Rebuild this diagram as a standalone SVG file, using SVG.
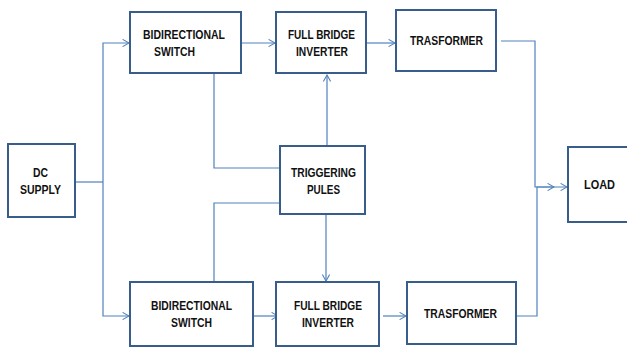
<svg xmlns="http://www.w3.org/2000/svg" width="627" height="347" viewBox="0 0 627 347">
  <style>
    .box { fill: #ffffff; stroke: #385d8a; stroke-width: 2; }
    .lbl { font-family: "Liberation Sans", Arial, sans-serif; font-weight: bold; font-size: 12px; fill: #111111; }
    .wire { fill: none; stroke: #4f81bd; stroke-width: 1.2; }
    .arr { marker-end: url(#chev); }
  </style>
  <defs>
    <marker id="chev" viewBox="0 0 10 10" refX="9" refY="5" markerWidth="8" markerHeight="8" markerUnits="userSpaceOnUse" orient="auto">
      <path d="M1 0.5 L9 5 L1 9.5" fill="none" stroke="#4f81bd" stroke-width="1.3"/>
    </marker>
  </defs>

  <!-- connectors -->
  <g id="connectors">
    <polyline class="wire" points="75,182 103,182"/>
    <polyline class="wire arr" points="103,182 103,43 129,43"/>
    <polyline class="wire arr" points="103,182 103,316 129,316"/>
    <line class="wire arr" x1="241" y1="43" x2="275" y2="43"/>
    <line class="wire arr" x1="366" y1="43" x2="395" y2="43"/>
    <polyline class="wire" points="214,73 214,168 280,168"/>
    <polyline class="wire" points="280,203 214,203 214,282"/>
    <line class="wire arr" x1="327" y1="146" x2="327" y2="75"/>
    <line class="wire arr" x1="326" y1="214" x2="326" y2="281"/>
    <line class="wire arr" x1="253" y1="316" x2="278" y2="316"/>
    <line class="wire arr" x1="383" y1="316" x2="406" y2="316"/>
    <polyline class="wire arr" points="501,41 535,41 535,187 554,187"/>
    <polyline class="wire arr" points="516,316 537,316 537,187 567,187"/>
  </g>

  <g id="dc-supply">
    <rect class="box" x="8" y="144" width="67" height="73"/>
    <text class="lbl" x="33" y="177" textLength="15" lengthAdjust="spacingAndGlyphs">DC</text>
    <text class="lbl" x="20" y="194" textLength="41" lengthAdjust="spacingAndGlyphs">SUPPLY</text>
  </g>

  <g id="bidir-switch-top">
    <rect class="box" x="130" y="12" width="111" height="61"/>
    <text class="lbl" x="143" y="39" textLength="82" lengthAdjust="spacingAndGlyphs">BIDIRECTIONAL</text>
    <text class="lbl" x="154" y="56" textLength="41" lengthAdjust="spacingAndGlyphs">SWITCH</text>
  </g>

  <g id="inverter-top">
    <rect class="box" x="276" y="12" width="90" height="61"/>
    <text class="lbl" x="288" y="39" textLength="67" lengthAdjust="spacingAndGlyphs">FULL BRIDGE</text>
    <text class="lbl" x="296" y="56" textLength="52" lengthAdjust="spacingAndGlyphs">INVERTER</text>
  </g>

  <g id="transformer-top">
    <rect class="box" x="396" y="10" width="100" height="61"/>
    <text class="lbl" x="410" y="45" textLength="73" lengthAdjust="spacingAndGlyphs">TRASFORMER</text>
  </g>

  <g id="triggering">
    <rect class="box" x="280" y="146" width="85" height="68"/>
    <text class="lbl" x="291" y="177" textLength="65" lengthAdjust="spacingAndGlyphs">TRIGGERING</text>
    <text class="lbl" x="307" y="194" textLength="33" lengthAdjust="spacingAndGlyphs">PULES</text>
  </g>

  <g id="load">
    <rect class="box" x="568" y="147" width="70" height="75"/>
    <text class="lbl" x="584" y="189" textLength="31" lengthAdjust="spacingAndGlyphs">LOAD</text>
  </g>

  <g id="bidir-switch-bottom">
    <rect class="box" x="130" y="282" width="123" height="64"/>
    <text class="lbl" x="151" y="310" textLength="81" lengthAdjust="spacingAndGlyphs">BIDIRECTIONAL</text>
    <text class="lbl" x="171" y="327" textLength="41" lengthAdjust="spacingAndGlyphs">SWITCH</text>
  </g>

  <g id="inverter-bottom">
    <rect class="box" x="276" y="282" width="103" height="64"/>
    <text class="lbl" x="294" y="310" textLength="68" lengthAdjust="spacingAndGlyphs">FULL BRIDGE</text>
    <text class="lbl" x="302" y="327" textLength="52" lengthAdjust="spacingAndGlyphs">INVERTER</text>
  </g>

  <g id="transformer-bottom">
    <rect class="box" x="407" y="282" width="109" height="62"/>
    <text class="lbl" x="424" y="318" textLength="73" lengthAdjust="spacingAndGlyphs">TRASFORMER</text>
  </g>
</svg>
